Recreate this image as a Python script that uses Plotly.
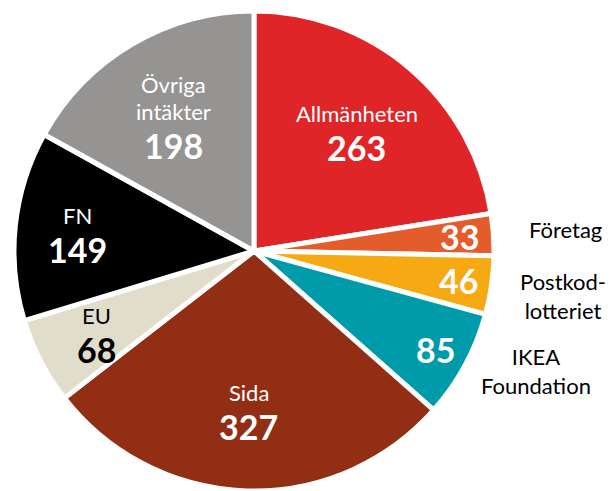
import math
import plotly.graph_objects as go

# ---- data ----
labels = ["Allmänheten", "Företag", "Postkod-<br>lotteriet", "IKEA<br>Foundation",
          "Sida", "EU", "FN", "Övriga<br>intäkter"]
values = [263, 33, 46, 85, 327, 68, 149, 198]
colors = ["#DF2528", "#E55C2C", "#F6A912", "#009BAA",
          "#912E14", "#E1DDCB", "#000000", "#959493"]
# where the name is written: inside the slice or outside beside it
name_inside = [True, False, False, False, True, True, True, True]
text_colors = ["white", "white", "white", "white", "white", "black", "white", "white"]

# ---- style ----
W, H = 611, 491
CX, CY, R = 254, 251, 240  # pie centre / radius in px
NAME_F, NUM_F = 22, 34
FONT = "Lato"
outside_nudge = {"IKEA<br>Foundation": (8, -28)}  # px tweak of outside names

fig = go.Figure()
fig.add_trace(go.Pie(
    labels=labels, values=values, sort=False, direction="clockwise", rotation=0,
    marker=dict(colors=colors, line=dict(color="white", width=5)),
    textinfo="none", hoverinfo="label+value", showlegend=False,
    domain=dict(x=[max(0, (CX - R) / W), min(1, (CX + R) / W)],
                y=[max(0, (H - CY - R) / H), min(1, (H - CY + R) / H)]),
))

total = sum(values)
cum = 0
annotations = []


def ann(x, y, text, size, color, xanchor="center"):
    annotations.append(dict(x=x / W, y=1 - y / H, xref="paper", yref="paper",
                            text=text, showarrow=False, xanchor=xanchor, yanchor="middle",
                            font=dict(family=FONT, size=size, color=color)))


for lab, v, inside, tc in zip(labels, values, name_inside, text_colors):
    share = v / total
    mid = 90 - (cum + v / 2) / total * 360
    cum += v
    a = math.radians(mid)
    if inside:
        rf = 0.66 if share > 0.15 else 0.74
    else:
        rf = 0.86
    px = CX + rf * R * math.cos(a)
    py = CY - rf * R * math.sin(a)
    name_lines = lab.split("<br>")
    if inside:
        offs = [i * 27 for i in range(len(name_lines))]
        num_off = offs[-1] + 34
        shift = num_off / 2
        for ln, o in zip(name_lines, offs):
            ann(px, py + o - shift, ln, NAME_F, tc)
        ann(px, py + num_off - shift, f"<b>{v}</b>", NUM_F, tc)
    else:
        ann(px, py, f"<b>{v}</b>", NUM_F, tc)
        ro = 1.30 * R
        dx, dy = outside_nudge.get(lab, (0, 0))
        ox = CX + ro * math.cos(a) + dx
        oy = CY - ro * math.sin(a) + dy
        ann(ox, oy, lab, NAME_F, "black")

fig.update_layout(width=W, height=H, margin=dict(l=0, r=0, t=0, b=0),
                  paper_bgcolor="white", plot_bgcolor="white",
                  annotations=annotations)
fig.write_html("out.html", config={"displayModeBar": False},
               post_script="document.body.style.margin='0';")
